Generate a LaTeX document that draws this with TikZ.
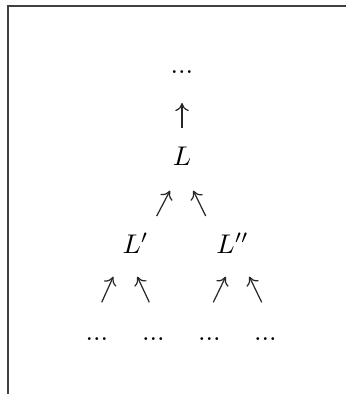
\documentclass[tikz,border=0pt]{standalone}
\usepackage{tikz}
\usetikzlibrary{positioning, arrows.meta}
\usepackage{amsmath}

\begin{document}
\begin{tikzpicture}[
    x=0.37pt, y=-0.37pt,
    term/.style={anchor=base, inner sep=0pt, font=\normalsize},
    arr/.style={-{To[length=3pt, width=5pt]}, line width=0.45pt, draw=black!85},
    frame/.style={line width=0.45pt, draw=black!75}
]
    \useasboundingbox (0,0) rectangle (346,394);

    % frame corner
    \draw[frame] (346,6) -- (8,6) -- (8,394);

    % top of the chain
    \node[term] (top) at (182,73.5) {$...$};
    \node[term] (L) at (182,166) {$L$};

    % middle level
    \node[term] (Lp) at (135.5,253) {$L'$};
    \node[term] (Lpp) at (232.5,253) {$L''$};

    % bottom level
    \node[term] (d1) at (97,340.5) {$...$};
    \node[term] (d2) at (153.5,340.5) {$...$};
    \node[term] (d3) at (209.5,340.5) {$...$};
    \node[term] (d4) at (265.5,340.5) {$...$};

    % arrow ends
    \coordinate (up-s) at (182,128);   \coordinate (up-e) at (182,103);
    \coordinate (ne-s) at (156.7,216); \coordinate (ne-e) at (170,190.7);
    \coordinate (nw-s) at (205.7,216); \coordinate (nw-e) at (193.3,190.7);
    \coordinate (a1-s) at (101.7,302.3); \coordinate (a1-e) at (113.3,276.7);
    \coordinate (a2-s) at (149.3,302.3); \coordinate (a2-e) at (137.3,276.7);
    \coordinate (a3-s) at (213.3,302.3); \coordinate (a3-e) at (225.7,276.7);
    \coordinate (a4-s) at (261.7,302.3); \coordinate (a4-e) at (249.3,276.7);

    \draw[arr] (up-s) -- (up-e);
    \draw[arr] (ne-s) -- (ne-e);
    \draw[arr] (nw-s) -- (nw-e);
    \draw[arr] (a1-s) -- (a1-e);
    \draw[arr] (a2-s) -- (a2-e);
    \draw[arr] (a3-s) -- (a3-e);
    \draw[arr] (a4-s) -- (a4-e);
\end{tikzpicture}
\end{document}
